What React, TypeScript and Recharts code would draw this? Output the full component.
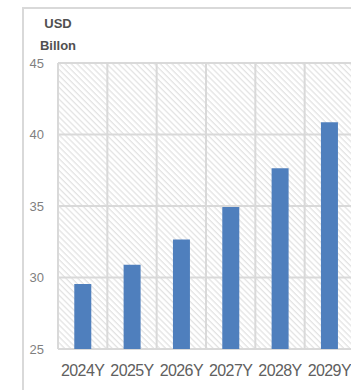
import React from 'react';
import { BarChart, Bar, XAxis, YAxis, CartesianGrid } from 'recharts';

// market size by year, USD billion
const years = ['2024Y', '2025Y', '2026Y', '2027Y', '2028Y', '2029Y'];
const values = [29.55, 30.9, 32.65, 34.93, 37.64, 40.86];
const yTicks = [25, 30, 35, 40, 45];

const FONT = '"Liberation Sans", Arial, sans-serif';
const GRID = '#d9d9d9';

const data = years.map((year, i) => ({ year, value: values[i] }));

export default function App() {
    return (
        <div style={{ position: 'absolute', left: 0, top: 0, width: 351, height: 390, overflow: 'hidden', background: '#fff', fontFamily: FONT }}>
            {/* outer chart frame */}
            <div style={{ position: 'absolute', left: 22, top: 7, width: 400, height: 400, borderLeft: `2px solid ${GRID}`, borderTop: `2px solid ${GRID}` }} />
            <div style={{ position: 'absolute', left: 28, top: 16, width: 60, textAlign: 'center', fontSize: 13, fontWeight: 700, color: '#505050' }}>USD</div>
            <div style={{ position: 'absolute', left: 28, top: 38, width: 60, textAlign: 'center', fontSize: 13, fontWeight: 700, color: '#505050' }}>Billon</div>
            <div style={{ position: 'absolute', left: 0, top: 0 }}>
                <BarChart width={360} height={390} data={data} margin={{ top: 63, right: 6, bottom: 0, left: 0 }} barCategoryGap="33%">
                    <defs>
                        <pattern id="hatch" width={4.2} height={4.2} patternUnits="userSpaceOnUse" patternTransform="rotate(-45)">
                            <rect width={4.2} height={4.2} fill="#ffffff" />
                            <line x1={1} y1={0} x2={1} y2={4.2} stroke="#dcdcdc" strokeWidth={1} />
                        </pattern>
                    </defs>
                    <CartesianGrid
                        stroke={GRID}
                        strokeWidth={2}
                        fill="url(#hatch)"
                        fillOpacity={1}
                        verticalCoordinatesGenerator={({ offset }: any) =>
                            years.map((_, i) => offset.left + (i * offset.width) / years.length).concat(offset.left + offset.width)
                        }
                    />
                    <XAxis
                        dataKey="year"
                        height={41}
                        axisLine={false}
                        tickLine={false}
                        tickSize={0}
                        tickMargin={16}
                        interval={0}
                        tick={{ fill: '#606060', fontSize: 16, fontFamily: FONT, letterSpacing: -0.6 }}
                    />
                    <YAxis
                        width={58}
                        domain={[25, 45]}
                        ticks={yTicks}
                        axisLine={false}
                        tickLine={false}
                        tickSize={0}
                        tickMargin={14}
                        tick={{ fill: '#7f7f7f', fontSize: 13, fontFamily: FONT }}
                    />
                    <Bar dataKey="value" fill="#4f7fbd" isAnimationActive={false} />
                </BarChart>
            </div>
        </div>
    );
}
